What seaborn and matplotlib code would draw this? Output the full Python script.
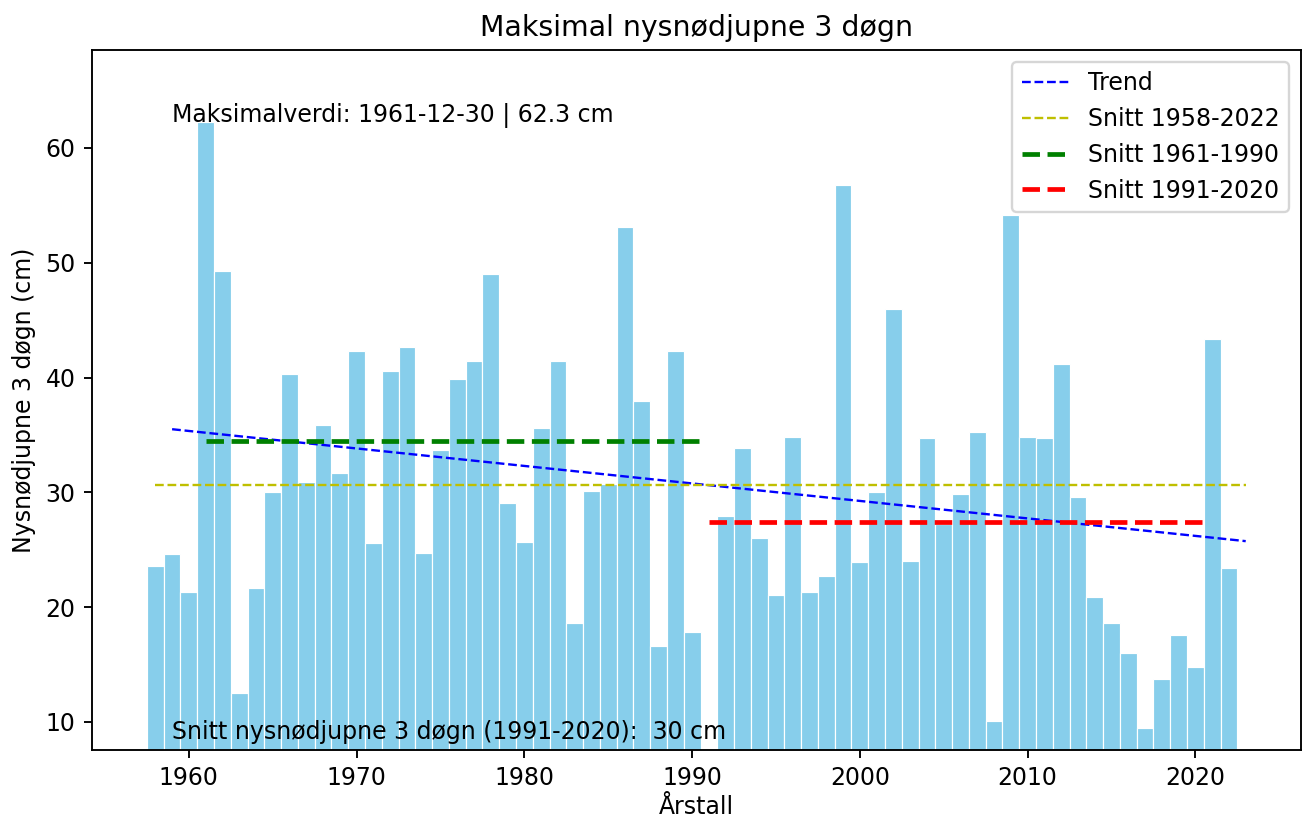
"""
Maksimal nysnødjupne 3 døgn - søylediagram med trend og snittlinjer
"""
import numpy as np
import pandas as pd
import matplotlib
matplotlib.use("Agg")
import matplotlib.pyplot as plt
import seaborn as sns

# Årlige maksimalverdier (cm), 1991 mangler
years = list(range(1958, 2023))
snow_depth = [
    23.6, 24.6, 21.3, 62.3, 49.3, 12.5, 21.7, 30.0, 40.3, 30.9,   # 1958-1967
    35.9, 31.7, 42.3, 25.6, 40.6, 42.7, 24.7, 33.7, 39.9, 41.4,   # 1968-1977
    49.0, 29.1, 25.7, 35.6, 41.4, 18.6, 30.1, 30.7, 53.1, 38.0,   # 1978-1987
    16.6, 42.3, 17.8, np.nan, 27.9, 33.9, 26.0, 21.1, 34.8, 21.3, # 1988-1997
    22.7, 56.8, 23.9, 30.0, 46.0, 24.0, 34.7, 27.2, 29.9, 35.3,   # 1998-2007
    10.1, 54.2, 34.8, 34.7, 41.2, 29.6, 20.9, 18.6, 16.0, 9.45,   # 2008-2017
    13.7, 17.6, 14.8, 43.4, 23.4,                                 # 2018-2022
]

# Trendlinje (endepunkter lest av figuren)
trend_years = [1959, 2023]
trend_values = [35.5, 25.75]

# Snittverdier
mean_all_years = [1958, 2023]
mean_all = 30.6
mean_6190_years = [1961, 1990.8]
mean_6190 = 34.5
mean_9120_years = [1991, 2020.8]
mean_9120 = 27.4

max_label = "Maksimalverdi: 1961-12-30 | 62.3 cm"
mean_label = "Snitt nysnødjupne 3 døgn (1991-2020):  30 cm"

df = pd.DataFrame({"year": years, "depth": snow_depth})

fig = plt.figure(figsize=(1303 / 170, 820 / 170), dpi=170)
ax = fig.add_axes([0.0706, 0.0854, 0.9276, 0.8536])

sns.barplot(data=df.dropna(), x="year", y="depth", native_scale=True,
            width=1.0, color="skyblue", saturation=1, edgecolor="white",
            linewidth=0.5, ax=ax)

ax.plot(trend_years, trend_values, "--", color="blue", lw=1, label="Trend")
ax.plot(mean_all_years, [mean_all] * 2, "--", color="y", lw=1,
        label="Snitt 1958-2022")
ax.plot(mean_6190_years, [mean_6190] * 2, "--", color="green", lw=2,
        label="Snitt 1961-1990")
ax.plot(mean_9120_years, [mean_9120] * 2, "--", color="red", lw=2,
        label="Snitt 1991-2020")

vals = df["depth"].dropna()
ax.set_ylim(vals.min() * 0.8, vals.max() * 1.1)

ax.text(1959, vals.max(), max_label, fontsize=10)
ax.text(1959, vals.min() * 0.9, mean_label, fontsize=10)

ax.set_title("Maksimal nysnødjupne 3 døgn", fontsize=12)
ax.set_xlabel("Årstall", labelpad=2)
ax.set_ylabel("Nysnødjupne 3 døgn (cm)")
ax.legend(loc="upper right")

fig.savefig("out.png", dpi=170)
plt.close(fig)
